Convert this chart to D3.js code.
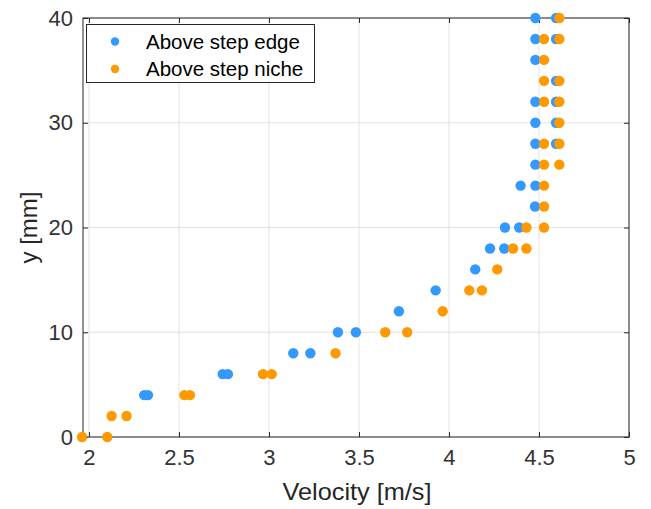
<!DOCTYPE html>
<html>
<head>
<meta charset="utf-8">
<script src="https://cdn.jsdelivr.net/npm/d3@7/dist/d3.min.js"></script>
<style>
  html, body { margin: 0; padding: 0; background: #fff; }
  svg { display: block; }
  text { font-family: "Liberation Sans", Arial, Helvetica, sans-serif; }
</style>
</head>
<body>
<svg id="chart" width="651" height="509"></svg>
<script>
// Velocity profiles measured above the step edge and above the step niche
const seriesNames = ["Above step edge", "Above step niche"];
const seriesColors = ["#3399ff", "#ff9900"];

// Above step edge: height y [mm] and velocity [m/s]
const edgeY = [4, 4, 6, 6, 8, 8, 10, 10, 12, 14, 16, 18, 18, 20, 20, 22, 24, 24, 26,
               28, 28, 30, 30, 32, 32, 34, 36, 38, 38, 40, 40];
const edgeV = [2.307, 2.328, 2.743, 2.772, 3.135, 3.23, 3.383, 3.483, 3.722, 3.926, 4.146,
               4.228, 4.307, 4.311, 4.39, 4.478, 4.398, 4.48, 4.48,
               4.48, 4.595, 4.48, 4.595, 4.48, 4.595, 4.595, 4.48, 4.48, 4.595, 4.48, 4.595];

// Above step niche: height y [mm] and velocity [m/s]
const nicheY = [0, 0, 2, 2, 4, 4, 6, 6, 8, 10, 10, 12, 14, 14, 16, 18, 18, 20, 20, 22, 24,
                26, 26, 28, 28, 30, 32, 32, 34, 34, 36, 38, 38, 40];
const nicheV = [1.962, 2.102, 2.126, 2.209, 2.53, 2.561, 2.967, 3.015, 3.37, 3.646, 3.768,
                3.965, 4.113, 4.183, 4.268, 4.356, 4.43, 4.43, 4.528, 4.528, 4.528,
                4.528, 4.613, 4.528, 4.613, 4.613, 4.528, 4.613, 4.528, 4.613, 4.528, 4.528, 4.613, 4.613];

const xTicks = [2, 2.5, 3, 3.5, 4, 4.5, 5];
const yTicks = [0, 10, 20, 30, 40];
const xLabel = "Velocity [m/s]";
const yLabel = "y [mm]";

const svg = d3.select("#chart");
const plotL = 83, plotR = 629, plotT = 18, plotB = 437;
const axisColor = "#262626";

const x = d3.scaleLinear().domain([1.967, 5]).range([plotL, plotR]);
const y = d3.scaleLinear().domain([0, 40]).range([plotB, plotT]);

// grid
const grid = svg.append("g");
grid.selectAll("line.gx").data(xTicks).join("line")
  .attr("x1", d => x(d)).attr("x2", d => x(d))
  .attr("y1", plotT).attr("y2", plotB)
  .attr("stroke", "#e3e3e3").attr("stroke-width", 1);
grid.selectAll("line.gy").data(yTicks).join("line")
  .attr("x1", plotL).attr("x2", plotR)
  .attr("y1", d => y(d)).attr("y2", d => y(d))
  .attr("stroke", "#e3e3e3").attr("stroke-width", 1);

// axes with inward ticks on all four sides
const fmt = d3.format("");
const tickLen = 5;
function styleAxis(g) {
  g.select(".domain").remove();
  g.selectAll(".tick line").attr("stroke", axisColor);
  g.selectAll(".tick text").attr("fill", "#333").style("font-size", "22px");
}
svg.append("g").attr("transform", `translate(0,${plotB})`)
  .call(d3.axisBottom(x).tickValues(xTicks).tickFormat(fmt).tickSizeInner(-tickLen).tickSizeOuter(0).tickPadding(12))
  .call(styleAxis);
svg.append("g").attr("transform", `translate(0,${plotT})`)
  .call(d3.axisTop(x).tickValues(xTicks).tickFormat("").tickSizeInner(-tickLen).tickSizeOuter(0))
  .call(styleAxis);
svg.append("g").attr("transform", `translate(${plotL},0)`)
  .call(d3.axisLeft(y).tickValues(yTicks).tickFormat(fmt).tickSizeInner(-tickLen).tickSizeOuter(0).tickPadding(10))
  .call(styleAxis);
svg.append("g").attr("transform", `translate(${plotR},0)`)
  .call(d3.axisRight(y).tickValues(yTicks).tickFormat("").tickSizeInner(-tickLen).tickSizeOuter(0))
  .call(styleAxis);

// box
svg.append("rect")
  .attr("x", plotL).attr("y", plotT)
  .attr("width", plotR - plotL).attr("height", plotB - plotT)
  .attr("fill", "none").attr("stroke", axisColor).attr("stroke-width", 1);

// data points
const edgePts = edgeY.map((v, i) => ({ y: v, v: edgeV[i] }));
const nichePts = nicheY.map((v, i) => ({ y: v, v: nicheV[i] }));
[edgePts, nichePts].forEach((pts, k) => {
  svg.append("g").selectAll("circle").data(pts).join("circle")
    .attr("cx", d => x(d.v)).attr("cy", d => y(d.y))
    .attr("r", 5.2).attr("fill", seriesColors[k]);
});

// axis labels
svg.append("text")
  .attr("x", 357).attr("y", 500)
  .attr("text-anchor", "middle").attr("fill", axisColor)
  .attr("textLength", 149).attr("lengthAdjust", "spacingAndGlyphs")
  .style("font-size", "24px").text(xLabel);
svg.append("text")
  .attr("transform", `translate(37,${(plotT + plotB) / 2}) rotate(-90)`)
  .attr("text-anchor", "middle").attr("fill", axisColor)
  .style("font-size", "24px").text(yLabel);

// legend
const leg = svg.append("g");
leg.append("rect")
  .attr("x", 86.5).attr("y", 24.5).attr("width", 228).attr("height", 58)
  .attr("fill", "#fff").attr("stroke", axisColor).attr("stroke-width", 1);
seriesNames.forEach((name, i) => {
  const cy = 41.5 + i * 27.5;
  leg.append("circle").attr("cx", 115).attr("cy", cy).attr("r", 4.2).attr("fill", seriesColors[i]);
  leg.append("text").attr("x", 146).attr("y", cy).attr("dy", "0.36em")
    .attr("fill", "#000").style("font-size", "20.5px").text(name);
});
</script>
</body>
</html>
